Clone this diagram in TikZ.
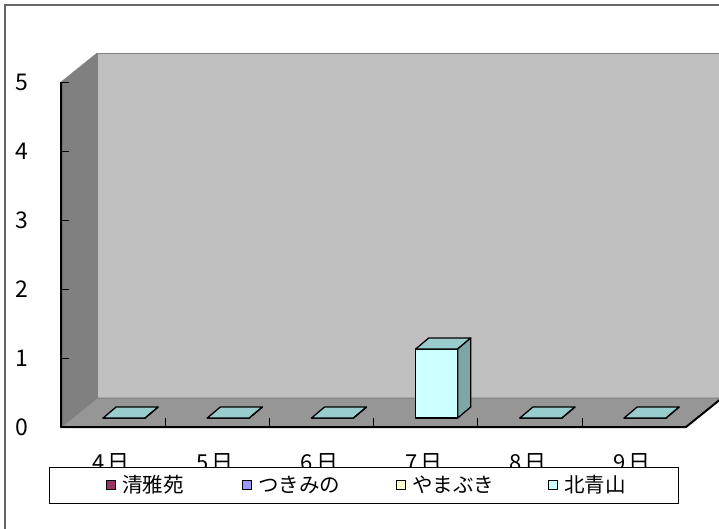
\documentclass[tikz,border=0pt]{standalone}
\usepackage{fontspec}
\setmainfont{Noto Sans CJK JP}
\usetikzlibrary{
  calc
  , positioning
}
\definecolor{framegray}{HTML}{666666}
\definecolor{wallback}{HTML}{C0C0C0}
\definecolor{wallside}{HTML}{808080}
\definecolor{floorgray}{HTML}{969696}
\definecolor{barfront}{HTML}{CCFFFF}
\definecolor{bartop}{HTML}{99CCCC}
\definecolor{barside}{HTML}{7FA6A6}
\definecolor{seigaen}{HTML}{993366}
\definecolor{tsukimino}{HTML}{9999FF}
\definecolor{yamabuki}{HTML}{FFFFCC}

\begin{document}
\begin{tikzpicture}[x=1pt, y=-1pt,
    barline/.style={draw=black, line width=1.3pt, line join=round},
    axislbl/.style={inner sep=0pt, font=\fontsize{23}{27}\selectfont},
    catlbl/.style={inner sep=0pt, anchor=base, font=\fontsize{22}{26}\selectfont},
    keybox/.style={draw=black, line width=1.3pt, minimum size=8.5pt, inner sep=0pt},
    keytext/.style={anchor=west, inner sep=0pt, font=\fontsize{20.5}{24}\selectfont},
  ]
      \clip (0,0) rectangle (719,528);
      \draw[framegray, line width=1.2pt] (5,5) rectangle (740,545);

      % walls and floor
      \filldraw[fill=wallside, draw=wallside] (61,82) coordinate (lt) -- (97,53) coordinate (bt)
        -- (97,398) coordinate (bb) -- (61,427) coordinate (org) -- cycle;
      \filldraw[fill=wallback, draw=gray, line width=1pt] (bt) rectangle (740,398);
      \filldraw[fill=floorgray, draw=gray, line width=1pt] (org) -- (bb) -- (722,398) coordinate (br) -- (686,427) coordinate (fr) -- cycle;

      % axes
      \draw[black, line width=2pt, line join=round] (lt) -- (org) -- (fr) -- (br);
      \foreach \v in {0,...,5} {
        \draw[black, line width=1pt] (61,{427-69*\v}) -- (69,{427-69*\v});
        \node[axislbl] (y\v) at (22,{427-69*\v}) {\v};
      }
      \foreach \k in {1,...,5}
        \draw[black, line width=0.8pt] ({61+104.2*\k},427) -- ({61+104.2*\k},418);

      % category labels (half hidden by the legend)
      \foreach \d [count=\i from 0] in {4,...,9}
        \node[catlbl] (c\d) at ({61+104.2*(\i+0.5)-2},470) {\d\hspace{3pt}日};

      % series (北青山)
      \foreach \d/\h [count=\i from 0] in {4/0,5/0,6/0,7/69,8/0,9/0} {
        \pgfmathsetmacro\cx{61+104.2*(\i+0.5)+11}
        \filldraw[barline, fill=barfront] ({\cx-21},418) rectangle ({\cx+21},{418-\h});
        \filldraw[barline, fill=bartop] ({\cx-21},{418-\h}) -- ({\cx-8},{407-\h})
          -- ({\cx+34},{407-\h}) -- ({\cx+21},{418-\h}) -- cycle;
        \filldraw[barline, fill=barside] ({\cx+21},418) -- ({\cx+21},{418-\h})
          -- ({\cx+34},{407-\h}) -- ({\cx+34},407) -- cycle;
      }

      % legend
      \node[draw=black, fill=white, line width=0.8pt, minimum width=629pt, minimum height=36pt,
        inner sep=0pt] (legend) at (363.5,485) {};
      \node[keybox, fill=seigaen] (k1) at (111,485) {};
      \node[keytext] (t1) at ([xshift=6pt]k1.east) {清雅苑};
      \node[keybox, fill=tsukimino] (k2) at (247,485) {};
      \node[keytext] (t2) at ([xshift=6pt]k2.east) {つきみの};
      \node[keybox, fill=yamabuki] (k3) at (401,485) {};
      \node[keytext] (t3) at ([xshift=6pt]k3.east) {やまぶき};
      \node[keybox, fill=barfront] (k4) at (553,485) {};
      \node[keytext] (t4) at ([xshift=6pt]k4.east) {北青山};
\end{tikzpicture}
\end{document}
